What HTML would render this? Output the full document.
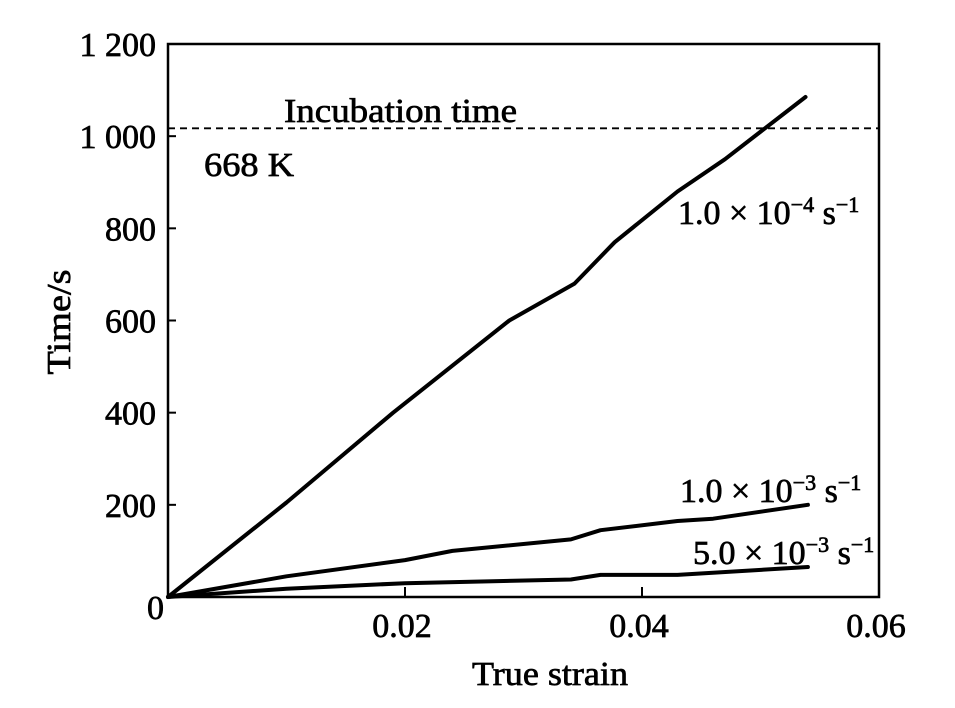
<!DOCTYPE html>
<html><head><meta charset="utf-8"><style>
html,body{margin:0;padding:0;background:#fff;}
svg{display:block;font-family:"Liberation Serif",serif;}
text{stroke:#000;stroke-width:0.7;}
</style></head><body>
<svg id="chart" width="955" height="708" viewBox="0 0 955 708">
<rect x="0" y="0" width="955" height="708" fill="#fff"/>
<g id="plot"></g>
</svg>
<script>
const xTicks = [0.02, 0.04, 0.06];
const xTickLabels = ["0.02", "0.04", "0.06"];
const yTicks = [0, 200, 400, 600, 800, 1000, 1200];
const yTickLabels = ["0", "200", "400", "600", "800", "1 000", "1 200"];
const incubationTime = 1017;
const s1x = [0, 0.010, 0.019, 0.0288, 0.0343, 0.0377, 0.043, 0.047, 0.0538];
const s1y = [0, 205, 400, 600, 680, 770, 880, 950, 1085];
const s2x = [0, 0.010, 0.020, 0.024, 0.034, 0.0365, 0.043, 0.046, 0.054];
const s2y = [0, 45, 80, 100, 125, 145, 165, 170, 200];
const s3x = [0, 0.010, 0.020, 0.034, 0.0365, 0.043, 0.054];
const s3y = [0, 18, 30, 38, 48, 48, 65];

const L = 168, R = 879, T = 44, B = 597;
const X = v => L + (v / 0.06) * (R - L);
const Y = v => B - (v / 1200) * (B - T);
const NS = "http://www.w3.org/2000/svg";
const g = document.getElementById("plot");
function mk(tag, attrs, text) {
  const e = document.createElementNS(NS, tag);
  for (const k in attrs) e.setAttribute(k, attrs[k]);
  if (text !== undefined) e.textContent = text;
  g.appendChild(e);
  return e;
}
let e;
e = mk("rect", {x: L, y: T, width: R - L, height: B - T, fill: "none", stroke: "#000", "stroke-width": 2.5});



yTicks.forEach((v, i) => {
  if (v > 0 && v < 1200) {
    const t = mk("line", {x1: L, x2: L + 8, y1: Y(v), y2: Y(v), stroke: "#000", "stroke-width": 2});
    
    
  }
  const attrs = {x: v === 0 ? L - 4 : L - 12, y: Y(v) + (v === 0 ? 22 : 12), "text-anchor": "end", "font-size": 34};
  const lb = mk("text", attrs, yTickLabels[i]);
  
  
});
xTicks.forEach((v, i) => {
  if (v < 0.06) {
    const t = mk("line", {x1: X(v), x2: X(v), y1: B, y2: B - 10, stroke: "#000", "stroke-width": 2});
    
    
  }
  const lb = mk("text", {x: X(v) - 3, y: B + 40, "text-anchor": "middle", "font-size": 34}, xTickLabels[i]);
  
  
});

e = mk("line", {x1: L, x2: R, y1: Y(incubationTime), y2: Y(incubationTime), stroke: "#000", "stroke-width": 1.8, "stroke-dasharray": "7,5"});


e = mk("text", {x: 284, y: 122, "font-size": 34, textLength: 233, lengthAdjust: "spacingAndGlyphs"}, "Incubation time");


e = mk("text", {x: 204, y: 176, "font-size": 34, textLength: 90, lengthAdjust: "spacingAndGlyphs"}, "668 K");



function series(xs, ys, name) {
  const d = xs.map((x, i) => (i ? "L" : "M") + X(x).toFixed(1) + "," + Y(ys[i]).toFixed(1)).join(" ");
  const p = mk("path", {d: d, fill: "none", stroke: "#000", "stroke-width": 4, "stroke-linejoin": "round", "stroke-linecap": "round"});
  
  
}
series(s1x, s1y, "series-1e-4");
series(s2x, s2y, "series-1e-3");
series(s3x, s3y, "series-5e-3");

function rateLabel(x, y, a, b, name) {
  const t = mk("text", {x: x, y: y, "font-size": 34});
  t.innerHTML = a + '<tspan dy="-12" font-size="22">' + b + '</tspan><tspan dy="12"> s</tspan><tspan dy="-12" font-size="22">−1</tspan>';
  
  
}
rateLabel(678, 224, "1.0 × 10", "−4", "label-1e-4");
rateLabel(680, 502, "1.0 × 10", "−3", "label-1e-3");
rateLabel(693, 564, "5.0 × 10", "−3", "label-5e-3");

e = mk("text", {x: 550, y: 685, "text-anchor": "middle", "font-size": 34, textLength: 156, lengthAdjust: "spacingAndGlyphs"}, "True strain");


e = mk("text", {x: 0, y: 0, "text-anchor": "middle", "font-size": 34, textLength: 105, lengthAdjust: "spacingAndGlyphs", transform: "translate(70,322) rotate(-90)"}, "Time/s");


</script>
</body></html>
